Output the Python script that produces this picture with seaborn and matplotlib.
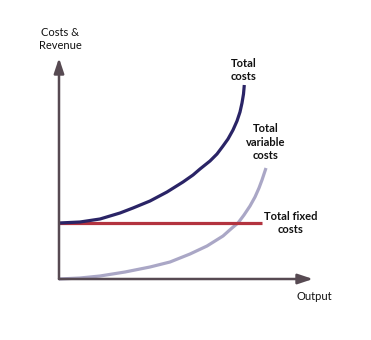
import matplotlib
matplotlib.use("Agg")
import matplotlib.pyplot as plt
import seaborn as sns
import pandas as pd

# Values (output units, cost units)
tc_output = [0, 21, 41, 61, 74, 91, 108, 124, 134, 141, 151, 158, 164, 169, 174, 178, 181, 183, 184.5, 185.3]
tc_cost = [56, 57, 60, 66, 71, 78, 87, 97, 104, 110, 118, 125, 133, 140, 149, 158, 167, 176, 185, 194]
tvc_output = [0, 21, 41, 66, 91, 111, 131, 148, 164, 173, 179, 185, 191, 196, 200, 203, 205, 207]
tvc_cost = [0, 1, 3, 7, 12, 17, 25, 33, 43, 51, 56, 64, 73, 82, 91, 99, 105, 111]
tfc_output = [0, 203]
tfc_cost = [56, 56]

sns.set_style("white")
plt.rcParams['font.family'] = ['Lato', 'DejaVu Sans']

W, H = 371, 340
fig = plt.figure(figsize=(W / 100, H / 100), dpi=100)
x0, y0, x1, y1 = 59, 279, 313, 58
ax = fig.add_axes([x0 / W, (H - y0) / H, (x1 - x0) / W, (y0 - y1) / H])
ax.set_xlim(0, x1 - x0)
ax.set_ylim(0, y0 - y1)

df_tc = pd.DataFrame({"Output": tc_output, "Cost": tc_cost})
df_tvc = pd.DataFrame({"Output": tvc_output, "Cost": tvc_cost})
df_tfc = pd.DataFrame({"Output": tfc_output, "Cost": tfc_cost})

sns.lineplot(data=df_tvc, x="Output", y="Cost", ax=ax, color="#aaa7c6", lw=2.3, sort=False, clip_on=False)
sns.lineplot(data=df_tfc, x="Output", y="Cost", ax=ax, color="#b3333f", lw=2.3, sort=False, clip_on=False)
sns.lineplot(data=df_tc, x="Output", y="Cost", ax=ax, color="#2a2466", lw=2.3, sort=False, clip_on=False)
for ln in ax.get_lines():
    ln.set_solid_joinstyle("round")
    ln.set_solid_capstyle("butt")

for s in ax.spines.values():
    s.set_visible(False)
ax.set_xticks([])
ax.set_yticks([])
ax.set_xlabel("")
ax.set_ylabel("")
ax.patch.set_alpha(0)

axis_col = "#574a52"
ax.annotate("", xy=(0, y0 - y1), xytext=(0, 0), xycoords="data",
            arrowprops=dict(arrowstyle="-|>,head_length=0.9,head_width=0.3", color=axis_col, lw=1.8,
                            shrinkA=0, shrinkB=0), annotation_clip=False)
ax.annotate("", xy=(x1 - x0, 0), xytext=(0, 0), xycoords="data",
            arrowprops=dict(arrowstyle="-|>,head_length=0.9,head_width=0.3", color=axis_col, lw=1.8,
                            shrinkA=0, shrinkB=0), annotation_clip=False)

def fig_text(px, py, s, **kw):
    fig.text(px / W, 1 - py / H, s, ha="center", va="center", fontsize=8, color="#111111",
             linespacing=1.25, **kw)

fig_text(60, 39, "Costs &\nRevenue")
fig_text(314, 297, "Output")
fig_text(244, 70, "Total\ncosts", fontweight="bold")
fig_text(266, 142, "Total\nvariable\ncosts", fontweight="bold")
fig_text(291, 223, "Total fixed\ncosts", fontweight="bold")

fig.savefig("out.png", dpi=100, facecolor="white")
